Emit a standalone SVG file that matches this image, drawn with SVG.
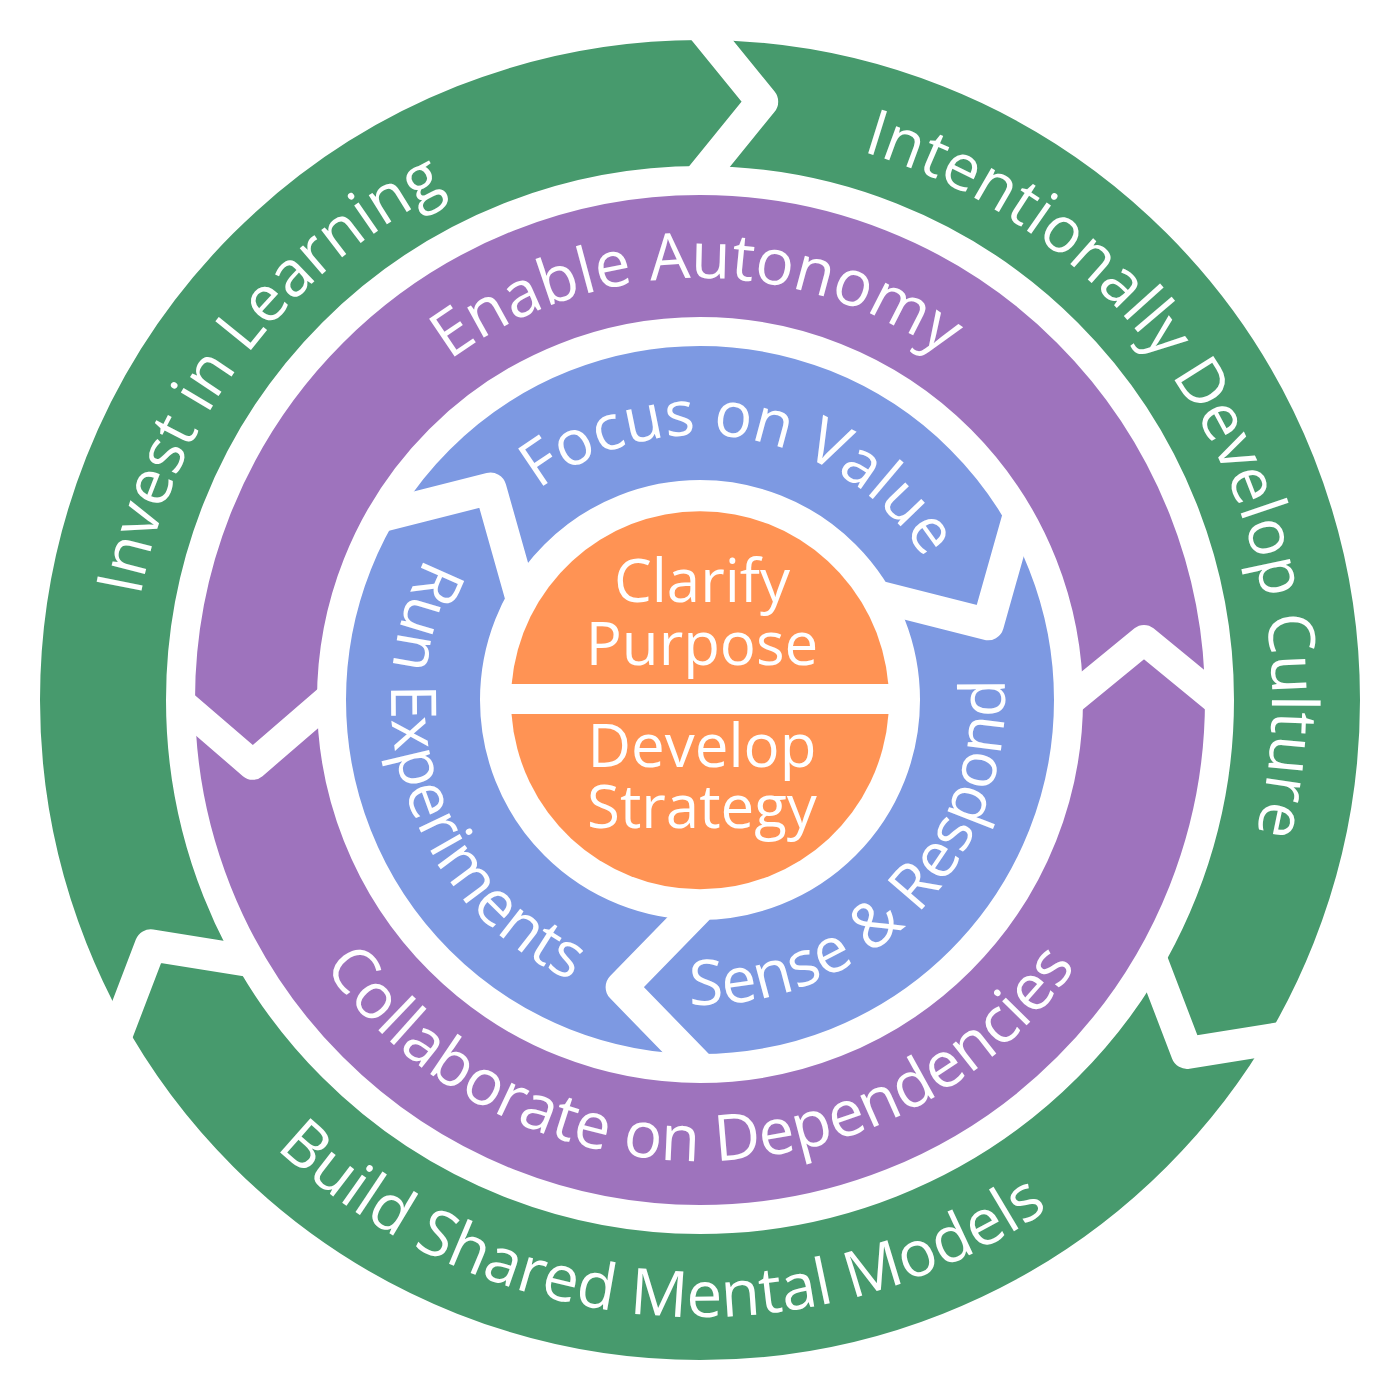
<svg xmlns="http://www.w3.org/2000/svg" width="1400" height="1400" viewBox="0 0 1400 1400">
<style>
.green{fill:none;stroke:#479A6D;stroke-width:126}
.purple{fill:none;stroke:#9E73BD;stroke-width:122}
.blue{fill:none;stroke:#7D99E2;stroke-width:134}
.orange{fill:#FF9354}
.sep{fill:none;stroke:#FFFFFF;stroke-linejoin:round;stroke-linecap:butt}
.lbl{font-family:"Open Sans","Noto Sans","DejaVu Sans",sans-serif;fill:#FFFFFF;font-size:63px}
.big{font-size:64px}
.ctr{font-family:"Open Sans","Noto Sans","DejaVu Sans",sans-serif;fill:#FFFFFF;font-size:60px;text-anchor:middle}
</style>
<defs>
<clipPath id="cp-culture"><path d="M700 700 L692.8 187.1 L762.2 101.7 L692.8 16.3 L684.3 -799.9 L1999 -50 L2006.9 1436.3 L1295.7 1035.6 L1187 1053 L1147.8 950.2 Z"/></clipPath>
<clipPath id="cp-models"><path d="M700 700 L1147.8 950.2 L1187 1053 L1295.7 1035.6 L2006.9 1436.3 L700 2200 L-591.1 1463.5 L111.5 1048.1 L150.8 945.3 L259.4 962.7 Z"/></clipPath>
<clipPath id="cp-learning"><path d="M700 700 L259.4 962.7 L150.8 945.3 L111.5 1048.1 L-591.1 1463.5 L-599 -50 L684.3 -799.9 L692.8 16.3 L762.2 101.7 L692.8 187.1 Z"/></clipPath>
<clipPath id="cp-autonomy"><path d="M700 700 L335 693.9 L252.7 764.8 L170 693.6 L-800 690 L-800 -800 L2200 -800 L2200 700 L1225 706.3 L1144 639.9 L1065 704.7 Z"/></clipPath>
<clipPath id="cp-collab"><path d="M700 700 L335 693.9 L252.7 764.8 L170 693.6 L-800 690 L-800 2200 L2200 2200 L2200 700 L1225 706.3 L1144 639.9 L1065 704.7 Z"/></clipPath>
<clipPath id="cp-value"><path d="M700 700 L520.3 594.4 L490.5 488.5 L374.3 518 L-609.8 -31.1 L700 -800 L1988.5 -68.1 L1020.5 508.9 L987.9 624.3 L881.3 597.2 Z"/></clipPath>
<clipPath id="cp-sense"><path d="M700 700 L881.3 597.2 L987.9 624.3 L1020.5 508.9 L1988.5 -68.1 L2000 1450 L720.9 2199.9 L705.3 1073.1 L621.6 987.2 L698.4 908.4 Z"/></clipPath>
<clipPath id="cp-run"><path d="M700 700 L698.4 908.4 L621.6 987.2 L705.3 1073.1 L720.9 2199.9 L-599 1450 L-609.8 -31.1 L374.3 518 L490.5 488.5 L520.3 594.4 Z"/></clipPath>
<clipPath id="clip-green-sep"><path clip-rule="evenodd" d="M700 10 A690 690 0 1 1 700 1390 A690 690 0 1 1 700 10 Z M700 181 A519 519 0 1 1 700 1219 A519 519 0 1 1 700 181 Z"/></clipPath>
<clipPath id="clip-purple-sep"><path clip-rule="evenodd" d="M700 181 A519 519 0 1 1 700 1219 A519 519 0 1 1 700 181 Z M700 331 A369 369 0 1 1 700 1069 A369 369 0 1 1 700 331 Z"/></clipPath>
<clipPath id="clip-blue-sep"><path clip-rule="evenodd" d="M700 332 A368 368 0 1 1 700 1068 A368 368 0 1 1 700 332 Z M700 495.5 A204.5 204.5 0 1 1 700 904.5 A204.5 204.5 0 1 1 700 495.5 Z"/></clipPath>
<path id="tp-learning" d="M283.8 1088.1 A569 569 0 0 1 958.3 193"/>
<path id="tp-culture" d="M504.4 162.5 A572 572 0 0 1 1067.7 1138.2"/>
<path id="tp-models" d="M85.8 759.1 A617 617 0 0 0 1297.3 854.5"/>
<path id="tp-autonomy" d="M283.8 630.4 A422 422 0 0 1 1114.9 623.1"/>
<path id="tp-collab" d="M246 780 A461 461 0 0 0 1154 780"/>
<path id="tp-value" d="M451.3 608.5 A265 265 0 0 1 965 700.9"/>
<path id="tp-sense" d="M529.4 952.8 A305 305 0 0 0 946.7 520.7"/>
<path id="tp-run" d="M550.2 429.8 A309 309 0 0 0 748.3 1005.2"/>
</defs>
<rect x="0" y="0" width="1400" height="1400" fill="#FFFFFF"/>

<g id="invest-in-learning">
<circle class="green" cx="700" cy="700" r="597" clip-path="url(#cp-learning)"/>
<text class="lbl big"><textPath href="#tp-learning" startOffset="50%" text-anchor="middle">Invest in Learning</textPath></text>
</g>
<g id="intentionally-develop-culture">
<circle class="green" cx="700" cy="700" r="597" clip-path="url(#cp-culture)"/>
<text class="lbl big"><textPath href="#tp-culture" startOffset="50%" text-anchor="middle">Intentionally Develop Culture</textPath></text>
</g>
<g id="build-shared-mental-models">
<circle class="green" cx="700" cy="700" r="597" clip-path="url(#cp-models)"/>
<text class="lbl big"><textPath href="#tp-models" startOffset="50%" text-anchor="middle">Build Shared Mental Models</textPath></text>
</g>
<g id="enable-autonomy">
<circle class="purple" cx="700" cy="700" r="444" clip-path="url(#cp-autonomy)"/>
<text class="lbl big"><textPath href="#tp-autonomy" startOffset="50%" text-anchor="middle">Enable Autonomy</textPath></text>
</g>
<g id="collaborate-on-dependencies">
<circle class="purple" cx="700" cy="700" r="444" clip-path="url(#cp-collab)"/>
<text class="lbl big"><textPath href="#tp-collab" startOffset="50%" text-anchor="middle">Collaborate on Dependencies</textPath></text>
</g>
<g id="focus-on-value">
<circle class="blue" cx="700" cy="700" r="287" clip-path="url(#cp-value)"/>
<text class="lbl"><textPath href="#tp-value" startOffset="50%" text-anchor="middle">Focus on Value</textPath></text>
</g>
<g id="sense-and-respond">
<circle class="blue" cx="700" cy="700" r="287" clip-path="url(#cp-sense)"/>
<text class="lbl"><textPath href="#tp-sense" startOffset="50%" text-anchor="middle">Sense &amp; Respond</textPath></text>
</g>
<g id="run-experiments">
<circle class="blue" cx="700" cy="700" r="287" clip-path="url(#cp-run)"/>
<text class="lbl"><textPath href="#tp-run" startOffset="50%" text-anchor="middle">Run Experiments</textPath></text>
</g>
<g id="clarify-purpose">
<path class="orange" d="M511.7 684 A189 189 0 0 1 888.3 684 Z"/>
<text class="ctr" x="702" y="602">Clarify</text>
<text class="ctr" x="702" y="665">Purpose</text>
</g>
<g id="develop-strategy">
<path class="orange" d="M888.5 714 A189 189 0 0 1 511.5 714 Z"/>
<text class="ctr" x="702" y="767">Develop</text>
<text class="ctr" x="702" y="828">Strategy</text>
</g>

<g id="connectors">
<g clip-path="url(#clip-green-sep)">
<path class="sep" stroke-width="32" d="M692.8 16.3 L762.2 101.7 L692.8 187.1"/>
<path class="sep" stroke-width="32" d="M692.8 16.3 L762.2 101.7 L692.8 187.1" transform="rotate(120 700 700)"/>
<path class="sep" stroke-width="32" d="M692.8 16.3 L762.2 101.7 L692.8 187.1" transform="rotate(240 700 700)"/>
</g>
<g clip-path="url(#clip-purple-sep)">
<path class="sep" stroke-width="30" d="M170 693.6 L252.7 764.8 L335 693.9"/>
<path class="sep" stroke-width="30" d="M1225 706.3 L1144 639.9 L1065 704.7"/>
</g>
<g clip-path="url(#clip-blue-sep)">
<path class="sep" stroke-width="32" d="M1020.5 508.9 L987.9 624.3 L881.3 597.2"/>
<path class="sep" stroke-width="32" d="M1020.5 508.9 L987.9 624.3 L881.3 597.2" transform="rotate(120 700 700)"/>
<path class="sep" stroke-width="32" d="M1020.5 508.9 L987.9 624.3 L881.3 597.2" transform="rotate(240 700 700)"/>
</g>
</g>
</svg>
